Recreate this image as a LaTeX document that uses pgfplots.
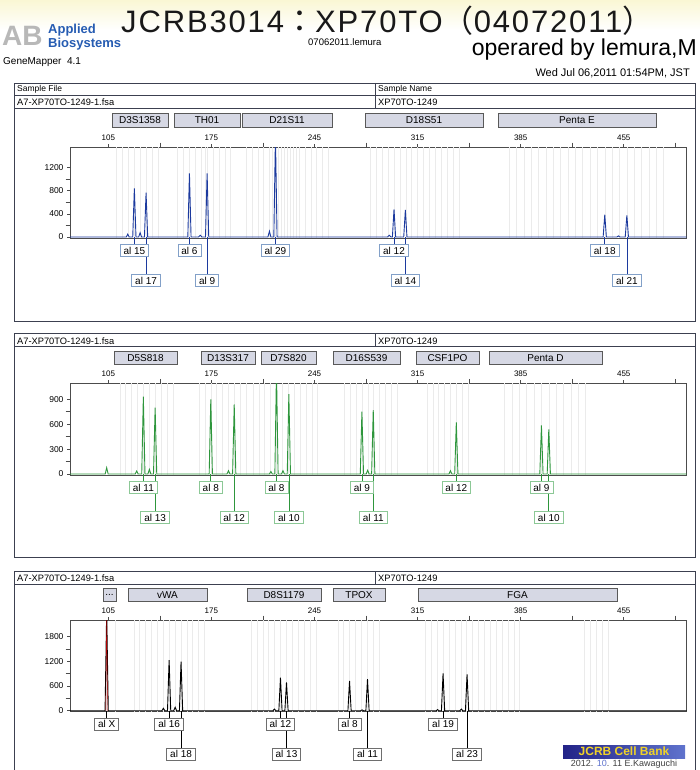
\documentclass[border=0pt]{standalone}
\usepackage{fontspec}
\setmainfont{Liberation Sans}
\newfontfamily\cjk{Noto Sans CJK JP}
\usepackage{pgfplots}
\pgfplotsset{compat=1.18}

\definecolor{trblue}{RGB}{28,58,158}
\definecolor{trgreen}{RGB}{46,150,60}
\definecolor{lbblue}{RGB}{130,160,200}
\definecolor{lbgreen}{RGB}{140,200,150}
\definecolor{lbgrey}{RGB}{110,110,110}
\definecolor{mkfill}{RGB}{214,216,228}
\definecolor{framec}{RGB}{60,64,80}
\definecolor{abblue}{RGB}{38,92,178}
\definecolor{jcrbdark}{RGB}{35,35,135}
\definecolor{jcrblight}{RGB}{95,115,205}
\definecolor{jcrbyel}{RGB}{240,210,40}

\newcommand\threedots{...}

\tikzset{
  mk/.style={draw=black!65, fill=mkfill, line width=0.7pt},
  al/.style={draw=#1, fill=white, line width=0.7pt, inner xsep=3.5pt, inner ysep=0pt,
    minimum height=12.5pt, font=\fontsize{10}{10}\selectfont},
}

% allele label, row 1 and row 2: position, text, line colour, box colour
\newcommand\alA[4]{\draw[#3, line width=0.7pt] (axis cs:#1,0) -- ++(0pt,-7pt);
  \node[al=#4] at ([yshift=-13.5pt]axis cs:#1,0) {#2};}
\newcommand\alB[4]{\draw[#3, line width=0.7pt] (axis cs:#1,0) -- ++(0pt,-37pt);
  \node[al=#4] at ([yshift=-43.5pt]axis cs:#1,0) {#2};}

\pgfplotsset{
  gm/.style={
    scale only axis, width=616.5pt, xmin=79, xmax=497.6,
    axis line style={draw=black!70, line width=0.7pt},
    clip mode=individual,
    xtick pos=right, xticklabel pos=right, ytick pos=left,
    tick align=outside,
    xtick={105,175,245,315,385,455},
    minor xtick={140,210,280,350,420,490},
    major tick length=3pt, minor tick length=4.5pt,
    every tick/.style={black!70, line width=0.6pt},
    xticklabel style={font=\fontsize{8}{8}\selectfont},
    yticklabel style={font=\fontsize{8.5}{8.5}\selectfont},
    /pgf/number format/assume math mode=true,
    /pgf/number format/1000 sep={},
    minor y tick num=1,
    extra x tick labels={},
    extra x tick style={grid=major, major tick length=0pt,
      major grid style={black!8, line width=0.45pt}},
  },
  trace/.style={line width=0.9pt},
}

\begin{document}
\begin{tikzpicture}
\useasboundingbox (0pt,0pt) rectangle (700pt,-770pt);

\begin{scope}[x=1pt,y=-1pt]
  \shade[top color={rgb,255:red,250;green,247;blue,212}, bottom color=white] (0,0) rectangle (700,30);
  % header
  \node[anchor=base west, inner sep=0, text=black!90] at (121,33)
    {\fontsize{31}{31}\selectfont\addfontfeature{LetterSpace=6}JCRB3014{\cjk\addfontfeature{LetterSpace=6}：}XP70TO{\cjk\addfontfeature{LetterSpace=6}（}04072011{\cjk ）}};
  \node[anchor=base west, inner sep=0, text=black!28] at (2,46)
    {\fontsize{28}{28}\selectfont\bfseries AB};
  \node[anchor=base west, inner sep=0, text=abblue] at (48,34)
    {\fontsize{13}{13}\selectfont\bfseries Applied};
  \node[anchor=base west, inner sep=0, text=abblue] at (48,47.5)
    {\fontsize{13}{13}\selectfont\bfseries Biosystems};
  \node[anchor=base west, inner sep=0] at (3,64.5)
    {\fontsize{10}{10}\selectfont GeneMapper\ \ 4.1};
  \node[anchor=base west, inner sep=0] at (308,46)
    {\fontsize{9.5}{9.5}\selectfont 07062011.lemura};
  \node[anchor=base east, inner sep=0] at (697,56)
    {\fontsize{23}{23}\selectfont operared by lemura,M};
  \node[anchor=base east, inner sep=0] at (690,77)
    {\fontsize{11}{11}\selectfont Wed Jul 06,2011 01:54PM, JST};

  % panel frames
  \draw[framec, line width=0.8pt] (14,83) rectangle (695,321);
  \draw[framec, line width=0.8pt] (14,95) -- (695,95) (14,108) -- (695,108) (375,83) -- (375,108);
  \node[anchor=base west, inner sep=0] at (17,92) {\fontsize{8.5}{8.5}\selectfont Sample File};
  \node[anchor=base west, inner sep=0] at (378,92) {\fontsize{8.5}{8.5}\selectfont Sample Name};
  \node[anchor=base west, inner sep=0] at (17,105.5) {\fontsize{9.3}{9.3}\selectfont A7-XP70TO-1249-1.fsa};
  \node[anchor=base west, inner sep=0] at (378,105.5) {\fontsize{9.3}{9.3}\selectfont XP70TO-1249};

  \draw[framec, line width=0.8pt] (14,333) rectangle (695,557);
  \draw[framec, line width=0.8pt] (14,346.5) -- (695,346.5) (375,333) -- (375,346.5);
  \node[anchor=base west, inner sep=0] at (17,344) {\fontsize{9.3}{9.3}\selectfont A7-XP70TO-1249-1.fsa};
  \node[anchor=base west, inner sep=0] at (378,344) {\fontsize{9.3}{9.3}\selectfont XP70TO-1249};

  \draw[framec, line width=0.8pt] (14,571) rectangle (695,780);
  \draw[framec, line width=0.8pt] (14,584) -- (695,584) (375,571) -- (375,584);
  \node[anchor=base west, inner sep=0] at (17,581.5) {\fontsize{9.3}{9.3}\selectfont A7-XP70TO-1249-1.fsa};
  \node[anchor=base west, inner sep=0] at (378,581.5) {\fontsize{9.3}{9.3}\selectfont XP70TO-1249};

  % marker (locus) boxes
  \foreach \a/\b/\t in {112/168/D3S1358, 174/240/TH01, 242/332/D21S11, 365/483/D18S51, 498/656/Penta E}{
    \draw[mk] (\a,113) rectangle (\b,127);
    \node[font=\fontsize{10}{10}\selectfont] at ({(\a+\b)/2},120) {\t};}
  \foreach \a/\b/\t in {114/177/D5S818, 201/255/D13S317, 261/316/D7S820, 333/400/D16S539, 416/479/CSF1PO, 489/602/Penta D}{
    \draw[mk] (\a,351.5) rectangle (\b,364.5);
    \node[font=\fontsize{10}{10}\selectfont] at ({(\a+\b)/2},358) {\t};}
  \foreach \a/\b/\t in {103/116/\threedots, 128/207/vWA, 247/321/D8S1179, 333/385/TPOX, 418/617/FGA}{
    \draw[mk] (\a,588.5) rectangle (\b,601.5);
    \node[font=\fontsize{10}{10}\selectfont] at ({(\a+\b)/2},595) {\t};}

  % JCRB Cell Bank stamp
  \shade[left color=jcrbdark, right color=jcrblight] (563,745) rectangle (685,758);
  \node[text=jcrbyel, font=\fontsize{12}{12}\selectfont\bfseries] at (624,751.5) {JCRB Cell Bank};
  \node[text=black!75, font=\fontsize{9}{9}\selectfont] at (624,764)
    {2012. {\color{jcrblight}10}. 11 E.Kawaguchi};
\end{scope}

% ---------- panel 1: blue dye ----------
\begin{axis}[gm, at={(70pt,-238pt)}, height=91pt, ymin=-17, ymax=1557,
  ytick={0,400,800,1200},
  extra x ticks={110.7,114.7,118.7,122.7,126.7,130.7,134.7,138.7,
    152.1,156.1,160.1,164.1,168.1,171.1,172.1,176.1,180.1,184.1,188.1,
    198.5,202.5,206.5,210.5,214.5,216.5,218.5,220.5,222.5,224.5,226.5,228.5,230.5,232.5,234.5,238.5,242.5,246.5,250.5,254.5,
    283,287,291,295,299,303,307,311,315,319,323,327,331,335,339,343,
    377.1,382.1,387.1,392.1,397.1,402.1,407.1,412.1,417.1,422.1,427.1,432.1,437.1,442.1,447.1,452.1,457.1,462.1,467.1,472.1,477.1,482.1}]
\addplot[trace, trblue] coordinates {
  (79,0)
  (117.2,0)(118.2,50)(119.2,0)
  (121.6,0)(122.7,842)(123.8,0)
  (125.6,0)(126.6,75)(127.6,0)
  (129.55,0)(130.65,766)(131.75,0)
  (159.0,0)(160.1,1102)(161.2,0)
  (166.2,0)(167.4,30)(168.6,0)
  (171.0,0)(172.1,1100)(173.2,0)
  (213.4,0)(214.4,100)(215.4,0)
  (217.4,0)(218.5,1750)(219.6,0)
  (294.6,0)(295.8,30)(297,0)
  (297.9,0)(299,479)(300.1,0)
  (305.6,0)(306.7,467)(307.8,0)
  (441.0,0)(442.1,386)(443.2,0)
  (450.4,0)(451.4,20)(452.4,0)
  (456.0,0)(457.1,375)(458.2,0)
  (497.6,0)};
\alB{130.65}{al 17}{trblue}{lbblue}
\alB{172.1}{al 9}{trblue}{lbblue}
\alB{306.7}{al 14}{trblue}{lbblue}
\alB{457.1}{al 21}{trblue}{lbblue}
\alA{122.7}{al 15}{trblue}{lbblue}
\alA{160.1}{al 6}{trblue}{lbblue}
\alA{218.5}{al 29}{trblue}{lbblue}
\alA{299.0}{al 12}{trblue}{lbblue}
\alA{442.1}{al 18}{trblue}{lbblue}
\end{axis}

% ---------- panel 2: green dye ----------
\begin{axis}[gm, at={(70pt,-475pt)}, height=91.7pt, ymin=-12, ymax=1093,
  ytick={0,300,600,900},
  extra x ticks={112.8,116.8,120.8,124.8,128.8,132.8,136.8,140.8,144.8,148.8,
    166.6,170.6,174.6,178.6,182.6,186.6,190.6,194.6,198.6,
    203.2,207.2,211.2,215.2,219.2,223.2,227.2,231.2,235.2,239.2,243.2,247.2,
    265.2,269.2,273.2,277.2,281.2,285.2,289.2,293.2,297.2,301.2,
    321.3,325.3,329.3,333.3,337.3,341.3,345.3,349.3,
    374.1,379.1,384.1,389.1,394.1,399.1,404.1,409.1,414.1,419.1,424.1,429.1}]
\addplot[trace, trgreen] coordinates {
  (79,0)
  (102.9,0)(103.9,76)(104.9,0)
  (123.3,0)(124.3,36)(125.3,0)
  (127.7,0)(128.8,931)(129.9,0)
  (131.9,0)(132.9,56)(133.9,0)
  (135.7,0)(136.8,799)(137.9,0)
  (173.5,0)(174.6,900)(175.7,0)
  (185.6,0)(186.6,40)(187.6,0)
  (189.4,0)(190.5,840)(191.6,0)
  (214.4,0)(215.4,30)(216.4,0)
  (218.1,0)(219.2,1250)(220.3,0)
  (222.6,0)(223.6,40)(224.6,0)
  (226.5,0)(227.6,964)(228.7,0)
  (276.1,0)(277.2,751)(278.3,0)
  (280.1,0)(281.1,45)(282.1,0)
  (283.8,0)(284.9,771)(286.0,0)
  (336.3,0)(337.3,40)(338.3,0)
  (340.2,0)(341.3,622)(342.4,0)
  (398.0,0)(399.1,586)(400.2,0)
  (403.0,0)(404.1,538)(405.2,0)
  (497.6,0)};
\alB{136.8}{al 13}{trgreen}{lbgreen}
\alB{190.5}{al 12}{trgreen}{lbgreen}
\alB{227.6}{al 10}{trgreen}{lbgreen}
\alB{284.9}{al 11}{trgreen}{lbgreen}
\alB{404.1}{al 10}{trgreen}{lbgreen}
\alA{128.8}{al 11}{trgreen}{lbgreen}
\alA{174.6}{al 8}{trgreen}{lbgreen}
\alA{219.2}{al 8}{trgreen}{lbgreen}
\alA{277.2}{al 9}{trgreen}{lbgreen}
\alA{341.3}{al 12}{trgreen}{lbgreen}
\alA{399.1}{al 9}{trgreen}{lbgreen}
\end{axis}

% ---------- panel 3: yellow (black) dye ----------
\begin{axis}[gm, at={(70pt,-711.7pt)}, height=91.7pt, ymin=-24, ymax=2207,
  ytick={0,600,1200,1800},
  extra x ticks={103.9,109.9,
    122.3,126.3,130.3,134.3,138.3,142.3,146.3,150.3,154.3,158.3,162.3,166.3,170.3,
    201.9,205.9,209.9,213.9,217.9,221.9,225.9,229.9,233.9,237.9,241.9,245.9,
    260.8,264.8,268.8,272.8,276.8,280.8,284.8,288.8,
    320.3,324.3,328.3,332.3,336.3,340.3,344.3,348.3,352.3,356.3,360.3,364.3,368.3,372.3,376.3,380.3,384.3,
    428.3,432.3,436.3,440.3,444.3}]
\addplot[trace, black] coordinates {
  (79,0)
  (102.8,0)(103.9,2400)(105.0,0)
  (141.4,0)(142.4,60)(143.4,0)
  (145.2,0)(146.3,1233)(147.4,0)
  (149.4,0)(150.4,83)(151.4,0)
  (153.3,0)(154.4,1193)(155.5,0)
  (216.8,0)(217.8,40)(218.8,0)
  (220.8,0)(221.9,803)(223.0,0)
  (224.9,0)(226,690)(227.1,0)
  (267.7,0)(268.8,723)(269.9,0)
  (276.3,0)(277.3,20)(278.3,0)
  (279.9,0)(281,771)(282.1,0)
  (327.6,0)(328.6,25)(329.6,0)
  (331.2,0)(332.3,910)(333.4,0)
  (343.7,0)(344.7,40)(345.7,0)
  (347.5,0)(348.6,886)(349.7,0)
  (497.6,0)};
\addplot[line width=0.4pt, red!70!black] coordinates {(103.3,0)(103.9,2400)(104.5,0)};
\alB{154.4}{al 18}{black}{lbgrey}
\alB{226.0}{al 13}{black}{lbgrey}
\alB{281.0}{al 11}{black}{lbgrey}
\alB{348.6}{al 23}{black}{lbgrey}
\alA{103.9}{al X}{black}{lbgrey}
\alA{146.3}{al 16}{black}{lbgrey}
\alA{221.9}{al 12}{black}{lbgrey}
\alA{268.8}{al 8}{black}{lbgrey}
\alA{332.3}{al 19}{black}{lbgrey}
\end{axis}
\end{tikzpicture}
\end{document}
